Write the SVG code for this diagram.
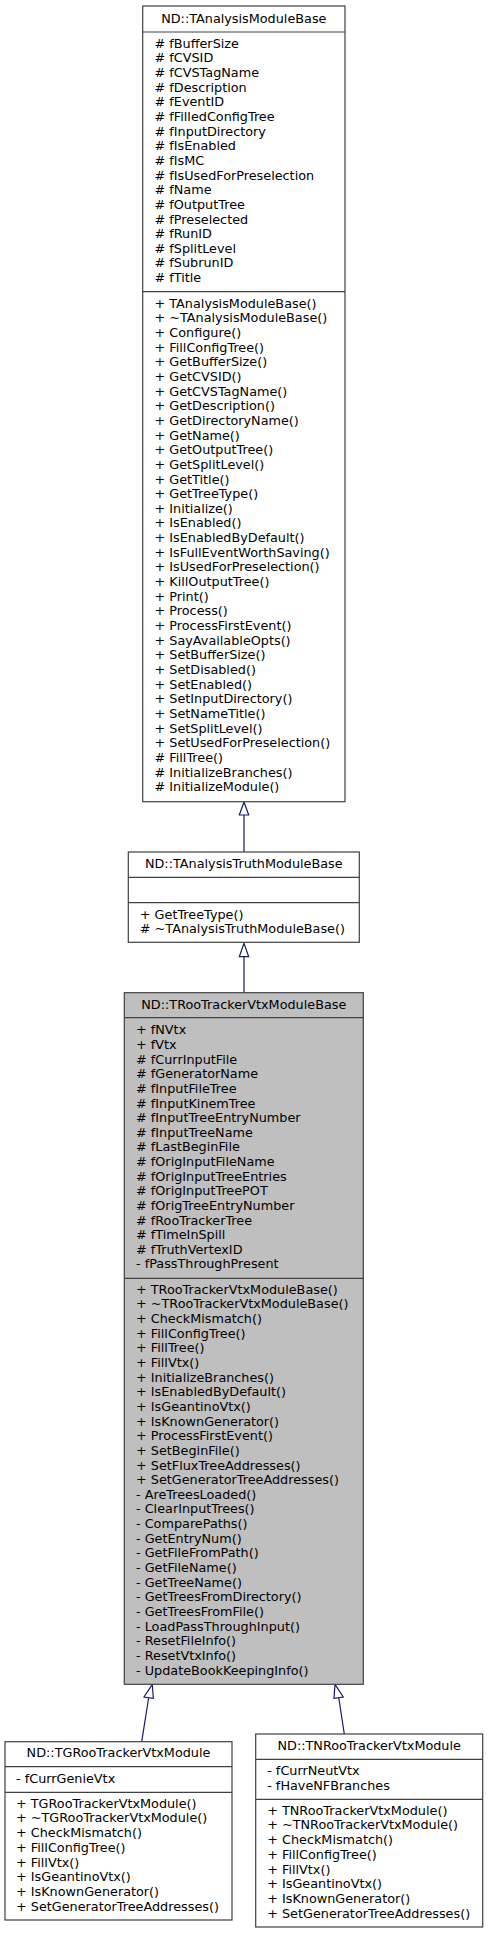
<svg xmlns="http://www.w3.org/2000/svg" width="488" height="1933" viewBox="0 0 488 1933">
<style>
text{font-family:"DejaVu Sans",sans-serif;font-size:12.8px;fill:#000}
.t{text-anchor:middle}
.box{fill:#fff;stroke:#404040;stroke-width:1.2}
.cur{fill:#bfbfbf;stroke:#404040;stroke-width:1.2}
.sep{stroke:#404040;stroke-width:1.2}
.edge{fill:none;stroke:#191970;stroke-width:1.2}
.head{fill:#fff;stroke:#191970;stroke-width:1.2}
</style>
<rect width="488" height="1933" fill="#fff"/>
<g id="connectors">
<path class="edge" d="M244,815 L244,852"/>
<polygon class="head" points="244,802 239.3,815 248.7,815"/>
<path class="edge" d="M244,956.7 L244,992.7"/>
<polygon class="head" points="244,943.3 239.3,956.7 248.7,956.7"/>
<path class="edge" d="M148.7,1697.5 L141.7,1741.7"/>
<polygon class="head" points="152.3,1684.3 144,1697 153.3,1698.3"/>
<path class="edge" d="M338.7,1697.5 L344.3,1734"/>
<polygon class="head" points="335,1684.3 334,1698.3 343.3,1697"/>
</g>
<g id="node1">
<rect class="box" x="142.7" y="6" width="202.3" height="795.7"/>
<line class="sep" x1="142.7" y1="32" x2="345" y2="32"/>
<line class="sep" x1="142.7" y1="291.7" x2="345" y2="291.7"/>
<text class="t" x="243.8" y="23.4">ND::TAnalysisModuleBase</text>
<text x="154.5" y="47.7"># fBufferSize</text>
<text x="154.5" y="62.35"># fCVSID</text>
<text x="154.5" y="77"># fCVSTagName</text>
<text x="154.5" y="91.65"># fDescription</text>
<text x="154.5" y="106.3"># fEventID</text>
<text x="154.5" y="120.95"># fFilledConfigTree</text>
<text x="154.5" y="135.6"># fInputDirectory</text>
<text x="154.5" y="150.25"># fIsEnabled</text>
<text x="154.5" y="164.9"># fIsMC</text>
<text x="154.5" y="179.55"># fIsUsedForPreselection</text>
<text x="154.5" y="194.2"># fName</text>
<text x="154.5" y="208.85"># fOutputTree</text>
<text x="154.5" y="223.5"># fPreselected</text>
<text x="154.5" y="238.15"># fRunID</text>
<text x="154.5" y="252.8"># fSplitLevel</text>
<text x="154.5" y="267.45"># fSubrunID</text>
<text x="154.5" y="282.1"># fTitle</text>
<text x="154.5" y="307.7">+ TAnalysisModuleBase()</text>
<text x="154.5" y="322.35">+ ~TAnalysisModuleBase()</text>
<text x="154.5" y="337">+ Configure()</text>
<text x="154.5" y="351.65">+ FillConfigTree()</text>
<text x="154.5" y="366.3">+ GetBufferSize()</text>
<text x="154.5" y="380.95">+ GetCVSID()</text>
<text x="154.5" y="395.6">+ GetCVSTagName()</text>
<text x="154.5" y="410.25">+ GetDescription()</text>
<text x="154.5" y="424.9">+ GetDirectoryName()</text>
<text x="154.5" y="439.55">+ GetName()</text>
<text x="154.5" y="454.2">+ GetOutputTree()</text>
<text x="154.5" y="468.85">+ GetSplitLevel()</text>
<text x="154.5" y="483.5">+ GetTitle()</text>
<text x="154.5" y="498.15">+ GetTreeType()</text>
<text x="154.5" y="512.8">+ Initialize()</text>
<text x="154.5" y="527.45">+ IsEnabled()</text>
<text x="154.5" y="542.1">+ IsEnabledByDefault()</text>
<text x="154.5" y="556.75">+ IsFullEventWorthSaving()</text>
<text x="154.5" y="571.4">+ IsUsedForPreselection()</text>
<text x="154.5" y="586.05">+ KillOutputTree()</text>
<text x="154.5" y="600.7">+ Print()</text>
<text x="154.5" y="615.35">+ Process()</text>
<text x="154.5" y="630">+ ProcessFirstEvent()</text>
<text x="154.5" y="644.65">+ SayAvailableOpts()</text>
<text x="154.5" y="659.3">+ SetBufferSize()</text>
<text x="154.5" y="673.95">+ SetDisabled()</text>
<text x="154.5" y="688.6">+ SetEnabled()</text>
<text x="154.5" y="703.25">+ SetInputDirectory()</text>
<text x="154.5" y="717.9">+ SetNameTitle()</text>
<text x="154.5" y="732.55">+ SetSplitLevel()</text>
<text x="154.5" y="747.2">+ SetUsedForPreselection()</text>
<text x="154.5" y="761.85"># FillTree()</text>
<text x="154.5" y="776.5"># InitializeBranches()</text>
<text x="154.5" y="791.15"># InitializeModule()</text>
</g>
<g id="node2">
<rect class="box" x="128.3" y="852" width="231" height="90.3"/>
<line class="sep" x1="128.3" y1="877.3" x2="359.3" y2="877.3"/>
<line class="sep" x1="128.3" y1="902.7" x2="359.3" y2="902.7"/>
<text class="t" x="243.8" y="867.7">ND::TAnalysisTruthModuleBase</text>
<text x="139.8" y="918.7">+ GetTreeType()</text>
<text x="139.8" y="933.3"># ~TAnalysisTruthModuleBase()</text>
</g>
<g id="node3">
<rect class="cur" x="124.3" y="992.7" width="239" height="691.6"/>
<line class="sep" x1="124.3" y1="1017.7" x2="363.3" y2="1017.7"/>
<line class="sep" x1="124.3" y1="1278.3" x2="363.3" y2="1278.3"/>
<text class="t" x="243.8" y="1008.7">ND::TRooTrackerVtxModuleBase</text>
<text x="136" y="1034.4">+ fNVtx</text>
<text x="136" y="1049.03">+ fVtx</text>
<text x="136" y="1063.66"># fCurrInputFile</text>
<text x="136" y="1078.29"># fGeneratorName</text>
<text x="136" y="1092.92"># fInputFileTree</text>
<text x="136" y="1107.55"># fInputKinemTree</text>
<text x="136" y="1122.18"># fInputTreeEntryNumber</text>
<text x="136" y="1136.81"># fInputTreeName</text>
<text x="136" y="1151.44"># fLastBeginFile</text>
<text x="136" y="1166.07"># fOrigInputFileName</text>
<text x="136" y="1180.7"># fOrigInputTreeEntries</text>
<text x="136" y="1195.33"># fOrigInputTreePOT</text>
<text x="136" y="1209.96"># fOrigTreeEntryNumber</text>
<text x="136" y="1224.59"># fRooTrackerTree</text>
<text x="136" y="1239.22"># fTimeInSpill</text>
<text x="136" y="1253.85"># fTruthVertexID</text>
<text x="136" y="1268.48">- fPassThroughPresent</text>
<text x="136" y="1293.7">+ TRooTrackerVtxModuleBase()</text>
<text x="136" y="1308.35">+ ~TRooTrackerVtxModuleBase()</text>
<text x="136" y="1323">+ CheckMismatch()</text>
<text x="136" y="1337.65">+ FillConfigTree()</text>
<text x="136" y="1352.3">+ FillTree()</text>
<text x="136" y="1366.95">+ FillVtx()</text>
<text x="136" y="1381.6">+ InitializeBranches()</text>
<text x="136" y="1396.25">+ IsEnabledByDefault()</text>
<text x="136" y="1410.9">+ IsGeantinoVtx()</text>
<text x="136" y="1425.55">+ IsKnownGenerator()</text>
<text x="136" y="1440.2">+ ProcessFirstEvent()</text>
<text x="136" y="1454.85">+ SetBeginFile()</text>
<text x="136" y="1469.5">+ SetFluxTreeAddresses()</text>
<text x="136" y="1484.15">+ SetGeneratorTreeAddresses()</text>
<text x="136" y="1498.8">- AreTreesLoaded()</text>
<text x="136" y="1513.45">- ClearInputTrees()</text>
<text x="136" y="1528.1">- ComparePaths()</text>
<text x="136" y="1542.75">- GetEntryNum()</text>
<text x="136" y="1557.4">- GetFileFromPath()</text>
<text x="136" y="1572.05">- GetFileName()</text>
<text x="136" y="1586.7">- GetTreeName()</text>
<text x="136" y="1601.35">- GetTreesFromDirectory()</text>
<text x="136" y="1616">- GetTreesFromFile()</text>
<text x="136" y="1630.65">- LoadPassThroughInput()</text>
<text x="136" y="1645.3">- ResetFileInfo()</text>
<text x="136" y="1659.95">- ResetVtxInfo()</text>
<text x="136" y="1674.6">- UpdateBookKeepingInfo()</text>
</g>
<g id="node4">
<rect class="box" x="5" y="1741.7" width="227" height="178.3"/>
<line class="sep" x1="5" y1="1766.7" x2="232" y2="1766.7"/>
<line class="sep" x1="5" y1="1792.3" x2="232" y2="1792.3"/>
<text class="t" x="118.5" y="1757.1">ND::TGRooTrackerVtxModule</text>
<text x="16" y="1782.7">- fCurrGenieVtx</text>
<text x="16" y="1807.7">+ TGRooTrackerVtxModule()</text>
<text x="16" y="1822.4">+ ~TGRooTrackerVtxModule()</text>
<text x="16" y="1837.1">+ CheckMismatch()</text>
<text x="16" y="1851.8">+ FillConfigTree()</text>
<text x="16" y="1866.5">+ FillVtx()</text>
<text x="16" y="1881.2">+ IsGeantinoVtx()</text>
<text x="16" y="1895.9">+ IsKnownGenerator()</text>
<text x="16" y="1910.6">+ SetGeneratorTreeAddresses()</text>
</g>
<g id="node5">
<rect class="box" x="255.7" y="1734" width="227" height="193"/>
<line class="sep" x1="255.7" y1="1759.3" x2="482.7" y2="1759.3"/>
<line class="sep" x1="255.7" y1="1799.3" x2="482.7" y2="1799.3"/>
<text class="t" x="369.2" y="1749.7">ND::TNRooTrackerVtxModule</text>
<text x="267.2" y="1774.7">- fCurrNeutVtx</text>
<text x="267.2" y="1789.7">- fHaveNFBranches</text>
<text x="267.2" y="1814.7">+ TNRooTrackerVtxModule()</text>
<text x="267.2" y="1829.4">+ ~TNRooTrackerVtxModule()</text>
<text x="267.2" y="1844.1">+ CheckMismatch()</text>
<text x="267.2" y="1858.8">+ FillConfigTree()</text>
<text x="267.2" y="1873.5">+ FillVtx()</text>
<text x="267.2" y="1888.2">+ IsGeantinoVtx()</text>
<text x="267.2" y="1902.9">+ IsKnownGenerator()</text>
<text x="267.2" y="1917.6">+ SetGeneratorTreeAddresses()</text>
</g>
</svg>
